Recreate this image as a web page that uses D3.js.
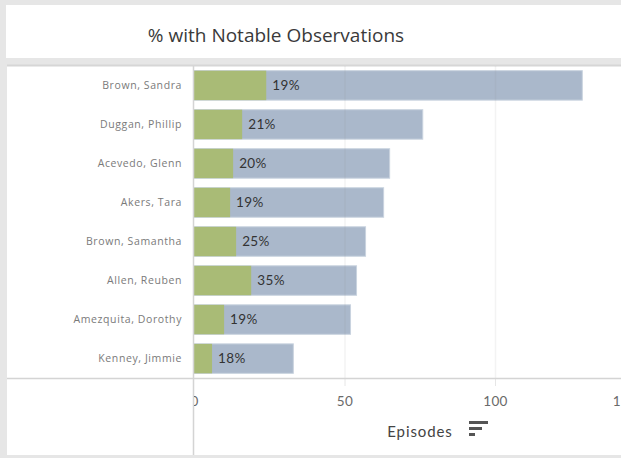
<!DOCTYPE html>
<html>
<head>
<meta charset="utf-8">
<script src="https://cdn.jsdelivr.net/npm/d3@7/dist/d3.min.js"></script>
<style>
  html, body { margin: 0; padding: 0; background: #e6e6e6; }
  svg { display: block; }
  text { font-family: Lato, "Noto Sans", sans-serif; }
</style>
</head>
<body>
<svg id="chart" width="621" height="458"></svg>
<script>
// Clinicians, ordered by episode count
const names = ["Brown, Sandra", "Duggan, Phillip", "Acevedo, Glenn", "Akers, Tara",
               "Brown, Samantha", "Allen, Reuben", "Amezquita, Dorothy", "Kenney, Jimmie"];
// Total episodes per clinician
const episodes = [129, 76, 65, 63, 57, 54, 52, 33];
// Episodes with notable observations
const notable = [24, 16, 13, 12, 14, 19, 10, 6];
// Axis ticks
const xTicks = [0, 50, 100, 150];

const svg = d3.select("#chart");
const W = 621, H = 458;

// Title panel
svg.append("rect").attr("x", 6).attr("y", 5).attr("width", W - 6).attr("height", 53).attr("fill", "#fff");
svg.append("text").attr("x", 276).attr("y", 42).attr("text-anchor", "middle")
  .attr("font-size", 19).attr("fill", "#3a3a3a")
  .style("font-family", "'Open Sans', Lato, sans-serif").style("font-weight", 400)
  .text("% with Notable Observations");

// Chart panel
const panel = { x: 7, y: 66, w: W - 7, h: 389 };
svg.append("rect").attr("x", panel.x).attr("y", panel.y - 1).attr("width", panel.w).attr("height", panel.h + 1).attr("fill", "#fff");
svg.append("line").attr("x1", panel.x).attr("x2", W).attr("y1", 65.5).attr("y2", 65.5).attr("stroke", "#d6d6d6").attr("stroke-width", 2);

const plotLeft = 194, plotTop = 66, plotBottom = 378;
const x = d3.scaleLinear().domain([0, 150]).range([plotLeft, plotLeft + 451.5]);
const y = d3.scaleBand().domain(names).range([plotTop, plotBottom]).paddingInner(0.245).paddingOuter(0.12);

const defs = svg.append("defs");
defs.append("clipPath").attr("id", "plotclip")
  .append("rect").attr("x", plotLeft).attr("y", panel.y).attr("width", W - plotLeft).attr("height", panel.h);

const plot = svg.append("g").attr("clip-path", "url(#plotclip)");

// Total episodes bars
plot.selectAll("rect.total").data(names).join("rect")
  .attr("class", "total")
  .attr("x", x(0)).attr("y", d => y(d))
  .attr("width", (d, i) => x(episodes[i]) - x(0))
  .attr("height", y.bandwidth())
  .attr("fill", "#aab8cb").attr("stroke", "#c9d3df").attr("stroke-width", 1);

// Notable observation bars
plot.selectAll("rect.notable").data(names).join("rect")
  .attr("class", "notable")
  .attr("x", x(0)).attr("y", d => y(d))
  .attr("width", (d, i) => x(notable[i]) - x(0))
  .attr("height", y.bandwidth())
  .attr("fill", "#a9bb76");

// Gridlines over the bars
plot.selectAll("line.grid").data(xTicks.slice(1)).join("line")
  .attr("class", "grid")
  .attr("x1", d => x(d) + 0.5).attr("x2", d => x(d) + 0.5)
  .attr("y1", panel.y).attr("y2", plotBottom)
  .attr("stroke", "#8a8a8a").attr("stroke-opacity", 0.1).attr("stroke-width", 1.5);
plot.selectAll("line.gridb").data(xTicks.slice(1)).join("line")
  .attr("class", "gridb")
  .attr("x1", d => x(d) + 0.5).attr("x2", d => x(d) + 0.5)
  .attr("y1", plotBottom).attr("y2", plotBottom + 8)
  .attr("stroke", "#e6e6e6").attr("stroke-width", 1);

// Percent labels
plot.selectAll("text.pct").data(names).join("text")
  .attr("class", "pct")
  .attr("x", (d, i) => x(notable[i]) + 6)
  .attr("y", d => y(d) + y.bandwidth() / 2)
  .attr("dy", "0.36em")
  .attr("font-size", 13.5).attr("letter-spacing", 0.4).attr("fill", "#333")
  .text((d, i) => Math.round(notable[i] / episodes[i] * 100) + "%");

// Row labels
svg.append("g").selectAll("text").data(names).join("text")
  .attr("x", 182).attr("y", d => y(d) + y.bandwidth() / 2)
  .attr("dy", "0.35em").attr("text-anchor", "end")
  .attr("font-size", 10.5).attr("letter-spacing", 0.6).attr("fill", "#7a7a7a")
  .style("font-family", "'Open Sans', Lato, sans-serif")
  .text(d => d);

// Panel dividers
svg.append("line").attr("x1", panel.x).attr("x2", W).attr("y1", plotBottom + 0.5).attr("y2", plotBottom + 0.5)
  .attr("stroke", "#d4d4d4").attr("stroke-width", 1.5);
svg.append("line").attr("x1", plotLeft - 0.5).attr("x2", plotLeft - 0.5).attr("y1", panel.y).attr("y2", panel.y + panel.h)
  .attr("stroke", "#d4d4d4").attr("stroke-width", 1.5);

// Axis tick labels, clipped to the axis pane
const axisG = svg.append("g").attr("clip-path", "url(#plotclip)");
const axisInner = axisG.append("g").attr("transform", `translate(0,${plotBottom})`);
const axis = d3.axisBottom(x).tickValues(xTicks).tickSize(0).tickPadding(18).tickFormat(d3.format("d"));
axisInner.call(axis);
axisInner.select(".domain").remove();
axisInner.selectAll("text").attr("font-size", 13.5).attr("fill", "#6a6a6a").attr("letter-spacing", 0.4)
  .attr("font-family", "Lato, 'Noto Sans', sans-serif")
  .attr("x", d => d === 150 ? -21 : 0);

// Axis title with sort glyph
svg.append("text").attr("x", 420).attr("y", 437).attr("text-anchor", "middle")
  .attr("font-size", 15).attr("letter-spacing", 0.9).attr("fill", "#444").text("Episodes");
const sortG = svg.append("g").attr("fill", "#555");
[[469, 421, 19], [469, 427, 13], [469, 433, 6]].forEach(([sx, sy, sw]) => {
  sortG.append("rect").attr("x", sx).attr("y", sy).attr("width", sw).attr("height", 3);
});

// Bottom frame
svg.append("rect").attr("x", 0).attr("y", 455).attr("width", W).attr("height", 3).attr("fill", "#e6e6e6");
</script>
</body>
</html>
